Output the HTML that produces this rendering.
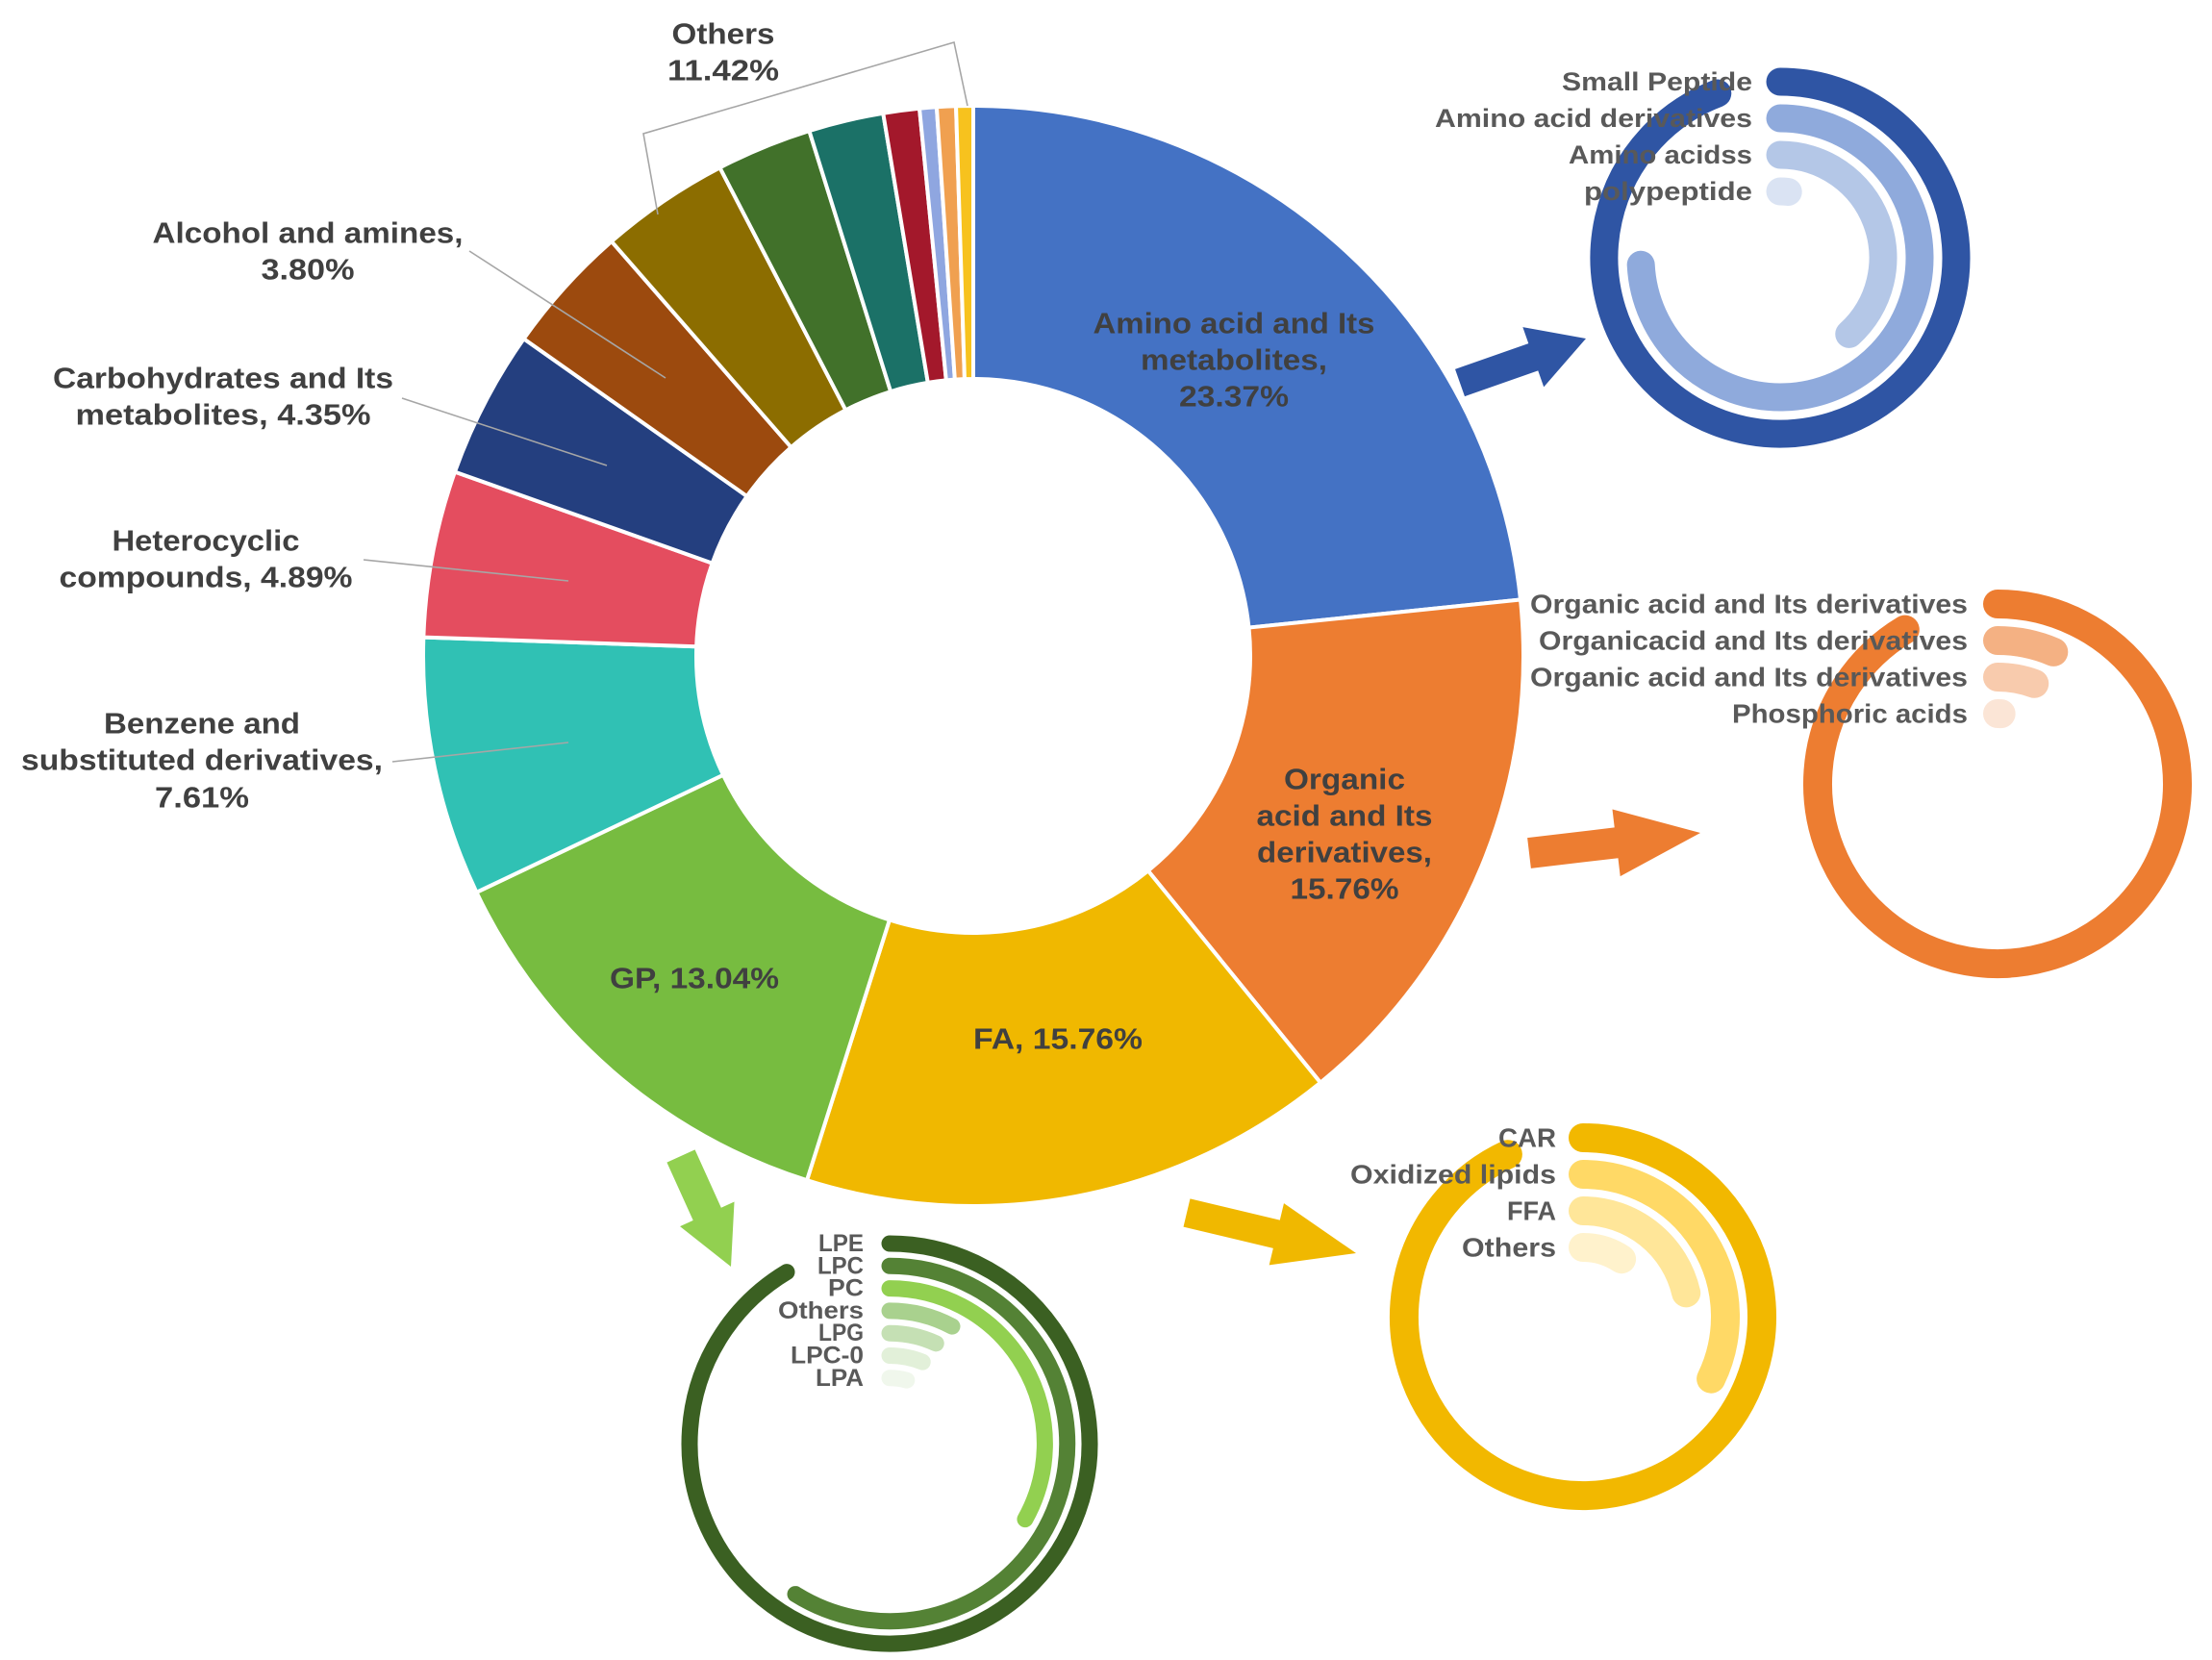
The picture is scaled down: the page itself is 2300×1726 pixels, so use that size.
<!DOCTYPE html>
<html><head><meta charset="utf-8">
<style>
html,body{margin:0;padding:0;background:#fff;}
svg{display:block;}
text{font-family:"Liberation Sans",sans-serif;font-weight:bold;}
.lbl{fill:#404040;font-size:31px;}
.sub{fill:#595959;font-size:27px;}
.lead{stroke:#A6A6A6;stroke-width:1.6;fill:none;}
</style></head>
<body>
<svg id="chart" width="2300" height="1726" viewBox="0 0 2300 1726" xmlns="http://www.w3.org/2000/svg">
  <g id="donut"></g>
  <g id="arrows"></g>
  <g id="radials"></g>
  <g id="labels">
    <polyline class="lead" points="684,223 669,139 992,44 1006,110"/>
    <line class="lead" x1="488" y1="261" x2="692" y2="393"/>
    <line class="lead" x1="418" y1="414" x2="631" y2="484"/>
    <line class="lead" x1="378" y1="582" x2="591" y2="604"/>
    <line class="lead" x1="408" y1="792" x2="591" y2="772"/>
    <g text-anchor="middle" dominant-baseline="central">
      <text class="lbl" x="1283" y="336" textLength="293" lengthAdjust="spacingAndGlyphs">Amino acid and Its</text>
      <text class="lbl" x="1283" y="374" textLength="194" lengthAdjust="spacingAndGlyphs">metabolites,</text>
      <text class="lbl" x="1283" y="412" textLength="114" lengthAdjust="spacingAndGlyphs">23.37%</text>
      <text class="lbl" x="1398" y="810" textLength="126" lengthAdjust="spacingAndGlyphs">Organic</text>
      <text class="lbl" x="1398" y="848" textLength="183" lengthAdjust="spacingAndGlyphs">acid and Its</text>
      <text class="lbl" x="1398" y="886" textLength="182" lengthAdjust="spacingAndGlyphs">derivatives,</text>
      <text class="lbl" x="1398" y="924" textLength="113" lengthAdjust="spacingAndGlyphs">15.76%</text>
      <text class="lbl" x="1100" y="1080" textLength="176" lengthAdjust="spacingAndGlyphs">FA, 15.76%</text>
      <text class="lbl" x="722" y="1017" textLength="176" lengthAdjust="spacingAndGlyphs">GP, 13.04%</text>
      <text class="lbl" x="752" y="35" textLength="107" lengthAdjust="spacingAndGlyphs">Others</text>
      <text class="lbl" x="752" y="73" textLength="116" lengthAdjust="spacingAndGlyphs">11.42%</text>
      <text class="lbl" x="320" y="242" textLength="323" lengthAdjust="spacingAndGlyphs">Alcohol and amines,</text>
      <text class="lbl" x="320" y="280" textLength="97" lengthAdjust="spacingAndGlyphs">3.80%</text>
      <text class="lbl" x="232" y="393" textLength="354" lengthAdjust="spacingAndGlyphs">Carbohydrates and Its</text>
      <text class="lbl" x="232" y="431" textLength="307" lengthAdjust="spacingAndGlyphs">metabolites, 4.35%</text>
      <text class="lbl" x="214" y="562" textLength="195" lengthAdjust="spacingAndGlyphs">Heterocyclic</text>
      <text class="lbl" x="214" y="600" textLength="305" lengthAdjust="spacingAndGlyphs">compounds, 4.89%</text>
      <text class="lbl" x="210" y="752" textLength="204" lengthAdjust="spacingAndGlyphs">Benzene and</text>
      <text class="lbl" x="210" y="790" textLength="376" lengthAdjust="spacingAndGlyphs">substituted derivatives,</text>
      <text class="lbl" x="210" y="829" textLength="98" lengthAdjust="spacingAndGlyphs">7.61%</text>
    </g>
  </g>
</svg>
<script>
// ---- main donut data ----
const categories = ["Amino acid and Its metabolites","Organic acid and Its derivatives","FA","GP","Benzene and substituted derivatives","Heterocyclic compounds","Carbohydrates and Its metabolites","Alcohol and amines","Others-1","Others-2","Others-3","Others-4","Others-5","Others-6","Others-7"];
const values = [23.37,15.76,15.76,13.04,7.61,4.89,4.35,3.80,3.80,2.80,2.20,1.06,0.50,0.56,0.50];
const sliceColors = ["#4472C4","#ED7D31","#F0B800","#77BC40","#30C1B4","#E44D5F","#243F7F","#9C4A0E","#8C6D00","#41712A","#1B7167","#A3182B","#8FA6E0","#F0A050","#F7C21E"];

// ---- radial sub-chart data (percent of full circle) ----
const aminoLabels = ["Small Peptide","Amino acid derivatives","Amino acidss","polypeptide"];
const aminoValues = [94.2,74.2,38.3,1.9];
const organicLabels = ["Organic acid and Its derivatives","Organicacid and Its derivatives","Organic acid and Its derivatives","Phosphoric acids"];
const organicValues = [91.4,6.4,5.6,0.8];
const faLabels = ["CAR","Oxidized lipids","FFA","Others"];
const faValues = [93.1,32.2,21.4,9.4];
const gpLabels = ["LPE","LPC","PC","Others","LPG","LPC-0","LPA"];
const gpValues = [91.4,58.9,33.1,7.8,6.9,6.1,4.2];

const NS = "http://www.w3.org/2000/svg";
function pt(cx,cy,r,deg){const a=deg*Math.PI/180;return [cx+r*Math.sin(a), cy-r*Math.cos(a)];}

// donut
const CX=1012, CY=682, RO=572, RI=288;
const total = values.reduce((a,b)=>a+b,0);
const donut = document.getElementById('donut');
let acc=0;
values.forEach((v,i)=>{
  const a0=acc/total*360, a1=(acc+v)/total*360; acc+=v;
  const large=(a1-a0)>180?1:0;
  const p1=pt(CX,CY,RO,a0),p2=pt(CX,CY,RO,a1),p3=pt(CX,CY,RI,a1),p4=pt(CX,CY,RI,a0);
  const path=document.createElementNS(NS,'path');
  path.setAttribute('d',`M${p1[0]},${p1[1]} A${RO},${RO} 0 ${large} 1 ${p2[0]},${p2[1]} L${p3[0]},${p3[1]} A${RI},${RI} 0 ${large} 0 ${p4[0]},${p4[1]} Z`);
  path.setAttribute('fill',sliceColors[i]);
  path.setAttribute('stroke','#fff');
  path.setAttribute('stroke-width','4');
  path.setAttribute('stroke-linejoin','round');
  
  
  donut.appendChild(path);
});

// radial bar charts
function radial(name,labels,vals,colors,cx,cy,r0,step,w,labelX,fs,widths){
  const g=document.createElementNS(NS,'g');
  
  
  document.getElementById('radials').appendChild(g);
  vals.forEach((v,i)=>{
    const r=r0-i*step;
    const deg=Math.min(v*3.6,359.5);
    const p0=pt(cx,cy,r,0),p1=pt(cx,cy,r,Math.max(deg,0.5));
    const arc=document.createElementNS(NS,'path');
    arc.setAttribute('d',`M${p0[0]},${p0[1]} A${r},${r} 0 ${deg>180?1:0} 1 ${p1[0]},${p1[1]}`);
    arc.setAttribute('fill','none');
    arc.setAttribute('stroke',colors[i]);
    arc.setAttribute('stroke-width',w);
    arc.setAttribute('stroke-linecap','round');
    
    
    g.appendChild(arc);
  });
  labels.forEach((t,i)=>{
    const r=r0-i*step;
    const tx=document.createElementNS(NS,'text');
    tx.setAttribute('x',labelX);
    tx.setAttribute('y',cy-r);
    tx.setAttribute('text-anchor','end');
    tx.setAttribute('dominant-baseline','central');
    tx.setAttribute('class','sub');
    tx.style.fontSize=fs+'px';
    tx.setAttribute('textLength',widths[i]);
    tx.setAttribute('lengthAdjust','spacingAndGlyphs');
    tx.textContent=t;
    
    
    g.appendChild(tx);
  });
}
radial('amino-radial',aminoLabels,aminoValues,["#2F55A4","#8FAADC","#B4C7E7","#DAE3F3"],1851,268,183,38,29,1822,27,[198,330,191,175]);
radial('organic-radial',organicLabels,organicValues,["#ED7D31","#F4B183","#F8CBAD","#FBE5D6"],2077,815,187,38,30,2046,28,[455,446,455,245]);
radial('fa-radial',faLabels,faValues,["#F2B800","#FFD966","#FFE699","#FFF2CC"],1646,1369,186,38,30,1618,28,[60,214,51,98]);
radial('gp-radial',gpLabels,gpValues,["#3B6022","#548235","#92D050","#A9D18E","#C5E0B4","#E2F0D9","#F0F7EC"],925,1501,208,23.3,17,898,25,[47,48,37,89,47,76,50]);

// arrows
function arrow(name,tail,tip,sw,hw,hl,color){
  const dx=tip[0]-tail[0],dy=tip[1]-tail[1],L=Math.hypot(dx,dy);
  const ux=dx/L,uy=dy/L,nx=-uy,ny=ux;
  const bx=tip[0]-ux*hl,by=tip[1]-uy*hl;
  const P=[[tail[0]+nx*sw/2,tail[1]+ny*sw/2],[bx+nx*sw/2,by+ny*sw/2],[bx+nx*hw/2,by+ny*hw/2],tip,[bx-nx*hw/2,by-ny*hw/2],[bx-nx*sw/2,by-ny*sw/2],[tail[0]-nx*sw/2,tail[1]-ny*sw/2]];
  const poly=document.createElementNS(NS,'polygon');
  poly.setAttribute('points',P.map(p=>p.join(',')).join(' '));
  poly.setAttribute('fill',color);
  
  
  document.getElementById('arrows').appendChild(poly);
}
arrow('amino-arrow',[1518,398],[1649,352],30,66,58,"#2F55A4");
arrow('organic-arrow',[1590,887],[1768,866],32,70,88,"#ED7D31");
arrow('fa-arrow',[1234,1261],[1410,1303],30,66,85,"#F0B800");
arrow('gp-arrow',[708,1202],[760,1317],32,62,60,"#92D050");
</script>
</body></html>
